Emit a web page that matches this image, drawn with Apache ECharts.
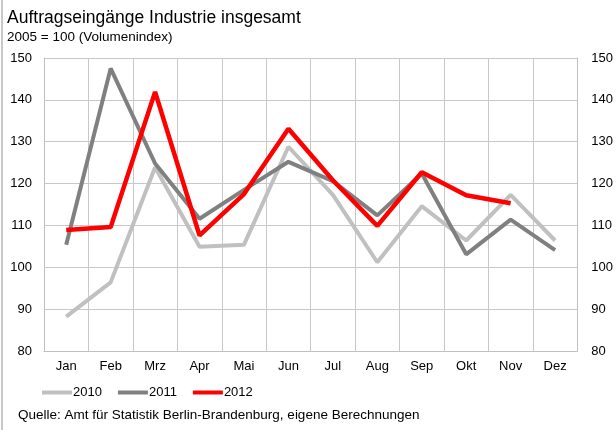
<!DOCTYPE html>
<html>
<head>
<meta charset="utf-8">
<script src="https://cdn.jsdelivr.net/npm/echarts@6/dist/echarts.min.js"></script>
<style>
  html, body { margin: 0; padding: 0; background: #fff; }
  #chart { width: 616px; height: 430px; }
</style>
</head>
<body>
<div id="chart"></div>
<script>
const months = ['Jan', 'Feb', 'Mrz', 'Apr', 'Mai', 'Jun', 'Jul', 'Aug', 'Sep', 'Okt', 'Nov', 'Dez'];
const y2010 = [88.2, 96.4, 123.9, 104.9, 105.4, 128.8, 117.3, 101.2, 114.6, 106.4, 117.3, 106.4];
const y2011 = [105.4, 147.5, 124.8, 111.6, 118.5, 125.2, 120.6, 112.4, 122.4, 103.1, 111.4, 104.1];
const y2012 = [108.9, 109.6, 141.9, 107.6, 117.5, 133.1, 120.8, 109.9, 122.7, 117.2, 115.3];
const seriesNames = ['2010', '2011', '2012'];
const seriesColors = ['#c0c0c0', '#808080', '#ff0000'];

const myChart = echarts.init(document.getElementById('chart'));
const font = 'Liberation Sans, Arial, sans-serif';

const yAxisBase = {
  type: 'value',
  min: 80,
  max: 150,
  interval: 10,
  axisTick: { show: false },
  axisLabel: { color: '#000', fontSize: 13, fontFamily: font, margin: 12 },
};

const option = {
  animation: false,
  title: [
    {
      text: 'Auftragseingänge Industrie insgesamt',
      left: 2,
      top: 4,
      textStyle: { fontSize: 17.5, fontWeight: 'normal', color: '#000', fontFamily: font },
    },
    {
      text: '2005 = 100 (Volumenindex)',
      left: 2,
      top: 25,
      textStyle: { fontSize: 13.5, fontWeight: 'normal', color: '#000', fontFamily: font },
    },
    {
      text: 'Quelle: Amt für Statistik Berlin-Brandenburg, eigene Berechnungen',
      left: 13,
      top: 403,
      textStyle: { fontSize: 13.5, fontWeight: 'normal', color: '#000', fontFamily: font },
    },
  ],
  legend: {
    left: 37,
    top: 381,
    itemWidth: 30,
    itemHeight: 4,
    itemGap: 16,
    icon: 'rect',
    textStyle: { fontSize: 13, color: '#000', fontFamily: font, padding: [0, 0, 0, -4] },
    data: seriesNames,
  },
  grid: { left: 44, right: 37, top: 58, bottom: 79 },
  xAxis: {
    type: 'category',
    data: months,
    boundaryGap: true,
    axisLine: { show: true, lineStyle: { color: '#c0c0c0' } },
    axisTick: { show: false },
    splitLine: { show: true, lineStyle: { color: '#c8c8c8' } },
    axisLabel: { color: '#000', fontSize: 13, fontFamily: font, margin: 9 },
  },
  yAxis: [
    Object.assign({}, yAxisBase, {
      position: 'left',
      axisLine: { show: true, lineStyle: { color: '#c0c0c0' } },
      splitLine: { show: true, lineStyle: { color: '#c8c8c8' } },
    }),
    Object.assign({}, yAxisBase, {
      position: 'right',
      axisLine: { show: true, lineStyle: { color: '#c0c0c0' } },
      splitLine: { show: false },
      axisLabel: { color: '#000', fontSize: 13, fontFamily: font, margin: 14 },
    }),
  ],
  series: [y2010, y2011, y2012].map((data, i) => ({
    name: seriesNames[i],
    type: 'line',
    data: data,
    symbol: 'none',
    lineStyle: { width: i === 2 ? 4.5 : 4, color: seriesColors[i] },
    itemStyle: { color: seriesColors[i] },
  })),
  graphic: [
    { type: 'rect', left: 1, top: 0, shape: { width: 2, height: 430 }, style: { fill: '#c8c8c8' } },
  ],
};

myChart.setOption(option);
</script>
</body>
</html>
